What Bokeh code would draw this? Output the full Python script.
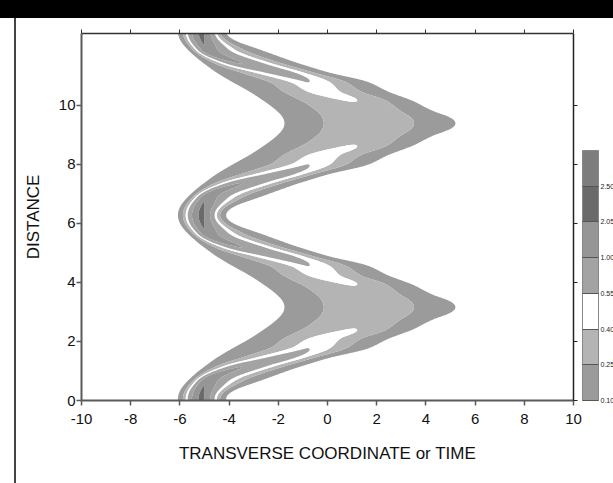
import numpy as np
from bokeh.plotting import figure
from bokeh.models import (LinearAxis, ColorBar, LinearColorMapper, FixedTicker, Div, Range1d,
                          CustomLabelingPolicy)
from bokeh.layouts import column, row
from bokeh.embed import file_html
from bokeh.resources import INLINE

# ---- chart data ----
x_ticks = [-10, -8, -6, -4, -2, 0, 2, 4, 6, 8, 10]
x_tick_labels = ["-10", "-8", "-6", "-4", "-2", "0", "2", "4", "6", "8", "10"]
y_ticks = [0, 2, 4, 6, 8, 10]
y_tick_labels = ["0", "2", "4", "6", "8", "10"]
level_values = [0.10, 0.25, 0.40, 0.55, 1.00, 2.05, 2.50]
level_labels = ["0.10", "0.25", "0.40", "0.55", "1.00", "2.05", "2.50"]
band_colors = ["#9b9b9b", "#b4b4b4", "#ffffff", "#a3a3a3", "#969696", "#6a6a6a", "#7d7d7d"]

# pulse profile read at distances from the focus (narrow bright point at x~-5)
focus_distance = [0.0, 0.6, 1.1, 1.4, 1.7, 2.05, 2.35, 2.7, 3.115]
peak_position = [-5.1, -4.95, -3.5, -2.0, -0.9, -0.1, 1.0, 1.45, 1.7]
peak_value = [2.49, 1.8, 1.0, 0.74, 0.56, 0.47, 0.405, 0.375, 0.356]
left_edge = [-6.08, -5.7, -5.0, -4.5, -3.9, -3.15, -2.6, -2.05, -1.75]
right_edge = [-4.12, -2.8, -1.1, 0.1, 1.6, 2.5, 3.45, 4.3, 5.2]
left_shape = [1.45, 1.21, 1.4, 1.2, 1.1, 1.5, 1.9, 1.9, 2.05]
right_shape = [1.15, 1.04, 1.5, 1.7, 1.7, 1.6, 1.9, 1.9, 1.95]
first_focus = 0.05
period = 6.23
x_limits = (-10, 10)
y_limits = (0, 12.44)


def pchip(xk, yk, x):
    xk = np.asarray(xk, float)
    yk = np.asarray(yk, float)
    h = np.diff(xk)
    delta = np.diff(yk) / h
    n = len(xk)
    m = np.zeros(n)
    m[0], m[-1] = delta[0], delta[-1]
    for k in range(1, n - 1):
        if delta[k - 1] * delta[k] <= 0:
            m[k] = 0.0
        else:
            w1 = 2 * h[k] + h[k - 1]
            w2 = h[k] + 2 * h[k - 1]
            m[k] = (w1 + w2) / (w1 / delta[k - 1] + w2 / delta[k])
    idx = np.clip(np.searchsorted(xk, x) - 1, 0, n - 2)
    t = (x - xk[idx]) / h[idx]
    h00 = 2 * t**3 - 3 * t**2 + 1
    h10 = t**3 - 2 * t**2 + t
    h01 = -2 * t**3 + 3 * t**2
    h11 = t**3 - t**2
    return h00 * yk[idx] + h10 * h[idx] * m[idx] + h01 * yk[idx + 1] + h11 * h[idx] * m[idx + 1]


# ---- field (smooth in distance: 0 at the focus, 1 at the widest point) ----
half = period / 2.0
u_knots = (1 - np.cos(np.pi * np.asarray(focus_distance) / half)) / 2
xg = np.linspace(x_limits[0], x_limits[1], 801)
yg = np.linspace(y_limits[0], y_limits[1], 600)
X, Y = np.meshgrid(xg, yg)
U = (1 - np.cos(2 * np.pi * (Y - first_focus) / period)) / 2


def par(a):
    return pchip(u_knots, a, U)


C = par(peak_position)
P = par(peak_value)
LE = par(left_edge)
RE = par(right_edge)
QL = par(left_shape)
QR = par(right_shape)
WL = (C - LE) / np.log(P / level_values[0]) ** (1.0 / QL)
WR = (RE - C) / np.log(P / level_values[0]) ** (1.0 / QR)
left = X < C
S = np.where(left, (C - X) / WL, (X - C) / WR)
Q = np.where(left, QL, QR)
Z = P * np.exp(-S ** Q)

# ---- figure ----
p = figure(width=597, height=465, x_range=Range1d(*x_limits), y_range=Range1d(*y_limits),
           output_backend="svg", toolbar_location=None,
           min_border_left=65, min_border_right=40, min_border_top=15, min_border_bottom=83)
p.grid.visible = False
p.outline_line_color = None
p.background_fill_color = "white"
p.border_fill_color = "white"

p.contour(xg, yg, Z, levels=level_values + [1000.0], fill_color=band_colors, line_color=None)

font = "Liberation Sans"
for ax in (p.xaxis[0], p.yaxis[0]):
    ax.axis_line_color = "#5a5a5a"
    ax.axis_line_width = 2
    ax.major_tick_line_color = "#5a5a5a"
    ax.major_tick_line_width = 1.5
    ax.major_tick_in = 0
    ax.major_tick_out = 5
    ax.minor_tick_line_color = None
    ax.major_label_text_font = font
    ax.major_label_text_font_size = "15px"
    ax.major_label_text_color = "#111111"
    ax.axis_label_text_font = font
    ax.axis_label_text_font_size = "17px"
    ax.axis_label_text_font_style = "normal"
    ax.axis_label_text_color = "#111111"

p.xaxis.ticker = FixedTicker(ticks=x_ticks)
p.yaxis.ticker = FixedTicker(ticks=y_ticks)
p.xaxis.major_label_overrides = dict(zip(x_ticks, x_tick_labels))
p.yaxis.major_label_overrides = dict(zip(y_ticks, y_tick_labels))
p.xaxis.axis_label = "TRANSVERSE COORDINATE or TIME"
p.yaxis.axis_label = "DISTANCE"
p.xaxis.major_label_standoff = 8
p.xaxis.axis_label_standoff = 17
p.yaxis.major_label_standoff = 1
p.yaxis.axis_label_standoff = 13

top_axis = LinearAxis(ticker=FixedTicker(ticks=x_ticks), axis_line_color="#333333", axis_line_width=1.5,
                      major_tick_line_color="#333333", major_tick_in=0, major_tick_out=4,
                      minor_tick_line_color=None, major_label_policy=CustomLabelingPolicy(code="return []"),
                      major_label_standoff=0)
right_axis = LinearAxis(ticker=FixedTicker(ticks=y_ticks), axis_line_color="#222222", axis_line_width=1.5,
                        major_tick_line_color="#222222", major_tick_in=0, major_tick_out=4,
                        minor_tick_line_color=None, major_label_policy=CustomLabelingPolicy(code="return []"),
                        major_label_standoff=0)
p.add_layout(top_axis, "above")
p.add_layout(right_axis, "right")

mapper = LinearColorMapper(palette=band_colors, low=0, high=len(band_colors))
cbar = ColorBar(color_mapper=mapper, ticker=FixedTicker(ticks=list(range(len(level_labels)))),
                major_label_overrides={i: t for i, t in enumerate(level_labels)},
                width=16, height=250, location=(501, 0), padding=0, margin=0,
                major_tick_in=16, major_tick_out=0, major_tick_line_color="#555555",
                label_standoff=2, major_label_text_font=font, major_label_text_font_size="7px",
                major_label_text_color="#222222", bar_line_color="#888888",
                background_fill_alpha=0)
p.add_layout(cbar)

top_bar = Div(text="", width=613, height=18, styles={"background-color": "#000000"}, margin=0)
left_pad = Div(text="", width=14, height=465, margin=0)
left_line = Div(text="", width=2, height=465, styles={"background-color": "#444444"}, margin=0)
page = column(top_bar, row(left_pad, left_line, p, spacing=0), spacing=0)

open("out.html", "w").write(file_html(page, INLINE))
